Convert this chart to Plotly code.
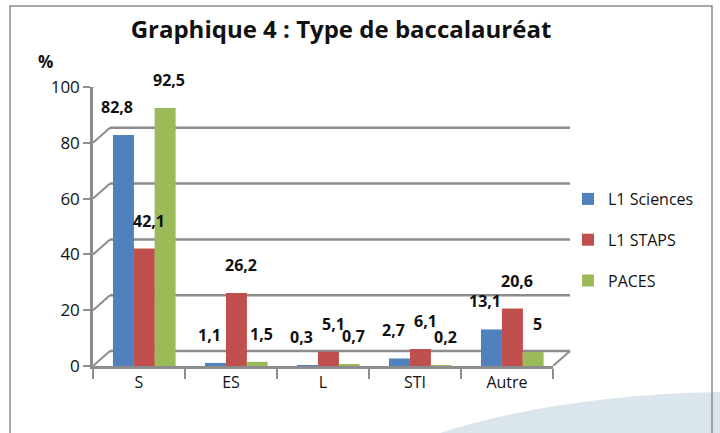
import plotly.graph_objects as go

categories = ["S", "ES", "L", "STI", "Autre"]
series_names = ["L1 Sciences", "L1 STAPS", "PACES"]
l1_sciences = [82.8, 1.1, 0.3, 2.7, 13.1]
l1_staps = [42.1, 26.2, 5.1, 6.1, 20.6]
paces = [92.5, 1.5, 0.7, 0.2, 5.0]
y_ticks = [0, 20, 40, 60, 80, 100]
colors = ["#4F81BD", "#C0504D", "#9BBB59"]

W, H = 720, 433
L, R, T, B = 93, 167, 87, 67
PW, PH = W - L - R, H - T - B

# bar geometry (category units) and label pixel shifts per series (style)
BAR_W = 0.228
BAR_OFFSETS = [-0.283, -0.055, 0.170]
LABEL_XSHIFT = [-6, 5, 4]
LABEL_YSHIFT = 28


def px_x(px):
    return (px - L) / PW


def px_y(py):
    return (H - B - py) / PH


def fmt(v):
    s = ("%.1f" % v).rstrip("0").rstrip(".")
    return s.replace(".", ",")


FONT = "Open Sans, sans-serif"
fig = go.Figure()
annotations = []
for i, (name, vals, col) in enumerate(zip(series_names, [l1_sciences, l1_staps, paces], colors)):
    fig.add_trace(go.Bar(
        x=categories, y=vals, name=name, legendgroup=name,
        width=BAR_W, offset=BAR_OFFSETS[i],
        marker=dict(color=col, line=dict(width=0)),
    ))
    for j, (c, v) in enumerate(zip(categories, vals)):
        annotations.append(dict(
            x=j + BAR_OFFSETS[i] + BAR_W / 2, y=v, xref="x", yref="y",
            text="<b>%s</b>" % fmt(v), showarrow=False,
            xanchor="center", yanchor="middle",
            xshift=LABEL_XSHIFT[i], yshift=LABEL_YSHIFT,
            font=dict(family=FONT, size=16, color="#111"),
        ))

# pseudo 3D back wall / floor
DX, DY = 17, 15
dxp = DX / PW
grid = "#8c8c8c"
shapes = []
for v in y_ticks:
    shapes.append(dict(type="line", xref="paper", yref="y", ysizemode="pixel", yanchor=v,
                       x0=dxp, x1=1 + dxp, y0=DY, y1=DY,
                       line=dict(color=grid, width=2.5), layer="below"))
    shapes.append(dict(type="line", xref="paper", yref="y", ysizemode="pixel", yanchor=v,
                       x0=0, x1=dxp, y0=0, y1=DY,
                       line=dict(color=grid, width=2), layer="below"))
shapes.append(dict(type="line", xref="paper", yref="y", ysizemode="pixel", yanchor=0,
                   x0=1, x1=1 + dxp, y0=0, y1=DY,
                   line=dict(color=grid, width=2), layer="below"))
# background swoosh
sw = [(440, 433), (560, 395), (720, 392), (720, 433)]
pts = [(px_x(a), px_y(b)) for a, b in sw]
path = "M %f,%f Q %f,%f %f,%f L %f,%f Z" % (pts[0] + pts[1] + pts[2] + pts[3])
shapes.append(dict(type="path", xref="paper", yref="paper", path=path,
                   fillcolor="rgba(190,208,220,0.55)", line=dict(width=0), layer="below"))
# frame
shapes.append(dict(type="rect", xref="paper", yref="paper",
                   x0=px_x(10), x1=px_x(712), y0=px_y(6), y1=px_y(445),
                   line=dict(color="#8a8a8a", width=1.5), layer="below"))

annotations.append(dict(text="<b>%</b>", xref="paper", yref="paper", x=px_x(45), y=px_y(61),
                        xanchor="center", yanchor="middle",
                        showarrow=False, font=dict(family=FONT, size=17, color="#111")))

fig.update_layout(
    width=W, height=H, margin=dict(l=L, r=R, t=T, b=B),
    paper_bgcolor="white", plot_bgcolor="rgba(0,0,0,0)",
    barmode="overlay",
    font=dict(family=FONT, size=16, color="#111"),
    title=dict(text="<b>Graphique 4 : Type de baccalauréat</b>", x=341 / W, y=1 - 30 / H,
               xanchor="center", yanchor="middle", font=dict(family=FONT, size=24, color="#111")),
    xaxis=dict(showline=True, linecolor=grid, linewidth=2.5, ticks="outside", ticklen=10,
               tickcolor=grid, tickwidth=2, tickson="boundaries", showgrid=False,
               tickfont=dict(size=16)),
    yaxis=dict(range=[0, 100], tickvals=y_ticks, showline=True, linecolor=grid, linewidth=2.5,
               ticks="outside", ticklen=7, tickcolor=grid, tickwidth=2, showgrid=False,
               zeroline=False, tickfont=dict(size=17)),
    legend=dict(x=px_x(568), y=px_y(240), xanchor="left", yanchor="middle",
                tracegroupgap=17, font=dict(size=16), bgcolor="rgba(0,0,0,0)",
                traceorder="grouped"),
    shapes=shapes,
    annotations=annotations,
)

fig.write_html("out.html", config={"displayModeBar": False},
               post_script="document.body.style.margin='0';")
